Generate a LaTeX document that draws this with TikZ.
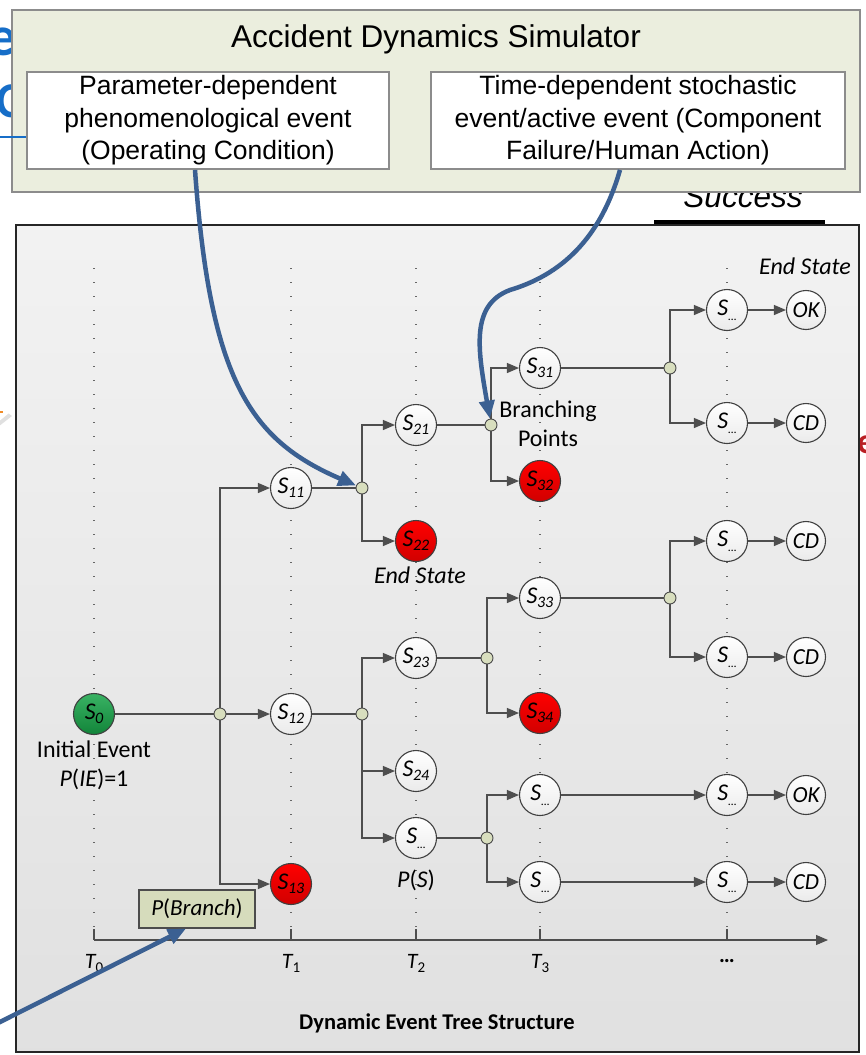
\documentclass[tikz,border=0pt]{standalone}
\usepackage{fontspec}
\setmainfont{Carlito}
\newfontfamily\arialfont{Liberation Sans}
\usetikzlibrary{arrows.meta}

\definecolor{linkgray}{RGB}{78,78,78}
\definecolor{bpfill}{RGB}{216,222,190}
\definecolor{simfill}{RGB}{235,238,222}
\definecolor{simdraw}{RGB}{140,140,140}
\definecolor{arrowblue}{RGB}{59,96,146}
\definecolor{titleblue}{RGB}{22,110,200}
\definecolor{probfill}{RGB}{214,220,188}
\definecolor{okgreen}{RGB}{22,165,72}
\definecolor{fragred}{RGB}{185,30,35}
\definecolor{fragorange}{RGB}{240,140,40}

% state labels: italic S with a lowered index
\newcommand\sname[1]{{\fontsize{24}{24}\selectfont\itshape S\kern-0.5pt\raisebox{-0.35ex}{\fontsize{16}{16}\selectfont #1}}}
\newcommand\sopen{{\fontsize{24}{24}\selectfont\itshape S\raisebox{-0.45ex}{\fontsize{12}{12}\selectfont\ldots}}}
\newcommand\tname[1]{{\fontsize{22}{22}\selectfont\itshape T\raisebox{-0.4ex}{\upshape\fontsize{15}{15}\selectfont #1}}}

\tikzset{
  state/.style={circle, draw=black!75, line width=1.1pt, minimum size=41pt,
    inner sep=0pt, top color=white, bottom color=black!8},
  hot/.style={state, top color=red, bottom color=red!82!black},
  start/.style={state, top color=okgreen!85!white, bottom color=okgreen!80!black},
  outcome/.style={state, minimum size=39pt},
  bpoint/.style={circle, draw=black!70, line width=0.9pt, fill=bpfill,
    minimum size=12pt, inner sep=0pt},
  link/.style={draw=linkgray, line width=1.2pt},
  go/.style={link, -{Triangle[length=12pt,width=10pt]}},
  guide/.style={draw=black!60, line width=1.1pt, dash pattern=on 1pt off 13pt},
  bluearrow/.style={draw=arrowblue, line width=4.5pt,
    -{Triangle[length=18pt,width=15pt]}},
  lbl/.style={font=\fontsize{24}{29}\selectfont, inner sep=0pt},
  inbox/.style={draw=simdraw, fill=white, line width=1.8pt, minimum height=97pt,
    align=center, inner sep=0pt, font=\arialfont\fontsize{26.5}{32.5}\selectfont},
}

\begin{document}
\begin{tikzpicture}[x=1pt,y=-1pt]
\useasboundingbox (0,0) rectangle (866,1055);

% pieces of neighbouring slide content at the edges
\node[anchor=base east, inner sep=0pt, text=titleblue,
  font=\bfseries\fontsize{56}{56}\selectfont] (fragE) at (17,55) {e};
\node[anchor=base west, inner sep=0pt, text=titleblue,
  font=\bfseries\fontsize{50}{50}\selectfont] (fragC) at (-4,117) {C};
\node[anchor=base west, inner sep=0pt, text=fragred,
  font=\bfseries\fontsize{36}{36}\selectfont] (fragR) at (857,453) {e};
\fill[black!12] (-20,393) -- (12,416) -- (-20,441) -- cycle;
\fill[white] (-20,389) -- (9,413) -- (-20,437) -- cycle;
\draw[fragorange, line width=1.6pt] (0,412) -- (3,412);

% tree panel
\draw[black!85, line width=1.5pt, top color=black!5, bottom color=black!12]
  (16,225) rectangle (859,1052);

% heading fragment above the panel
\node[anchor=base, inner sep=0pt, font=\arialfont\itshape\fontsize{31.5}{31.5}\selectfont]
  (success) at (743,207) {Success};
\fill (654,220) rectangle (825,224);

% time guides
\foreach \gx in {94,291,416,540,727}
  \draw[guide] (\gx,268) -- (\gx,930);

% time axis
\coordinate (ax0) at (94,940);
\coordinate (axend) at (828,940);
\draw[link, -{Triangle[length=12pt,width=10pt]}] (ax0) -- (axend);
\foreach \gx in {94,291,416,540,727}
  \draw[link] (\gx,929) -- (\gx,940);
\node[lbl, anchor=base] (t0) at (94,968) {\tname{0}};
\node[lbl, anchor=base] (t1) at (291,968) {\tname{1}};
\node[lbl, anchor=base] (t2) at (416,968) {\tname{2}};
\node[lbl, anchor=base] (t3) at (540,968) {\tname{3}};
\node[lbl, anchor=base, font=\bfseries\fontsize{22}{22}\selectfont] (tn) at (727,962) {\ldots};

% states
\node[start] (s0) at (94,714) {\sname{0}};
\node[bpoint] (b0) at (220,714) {};
\node[state] (s11) at (291,488) {\sname{11}};
\node[state] (s12) at (291,714) {\sname{12}};
\node[hot]   (s13) at (291,884) {\sname{13}};
\node[bpoint] (b1) at (362,488) {};
\node[state] (s21) at (416,425) {\sname{21}};
\node[hot]   (s22) at (416,541) {\sname{22}};
\node[bpoint] (b2) at (362,714) {};
\node[state] (s23) at (416,658) {\sname{23}};
\node[state] (s24) at (416,771) {\sname{24}};
\node[state] (s2x) at (416,838) {\sopen};
\node[bpoint] (b3) at (491,425) {};
\node[state] (s31) at (540,368) {\sname{31}};
\node[hot]   (s32) at (540,481) {\sname{32}};
\node[bpoint] (b4) at (487,658) {};
\node[state] (s33) at (540,598) {\sname{33}};
\node[hot]   (s34) at (540,713) {\sname{34}};
\node[bpoint] (b5) at (487,838) {};
\node[state] (s3a) at (540,795) {\sopen};
\node[state] (s3b) at (540,882) {\sopen};
\node[bpoint] (b6) at (670,368) {};
\node[state] (sa) at (727,310) {\sopen};
\node[state] (sb) at (727,423) {\sopen};
\node[bpoint] (b7) at (670,598) {};
\node[state] (sc) at (727,541) {\sopen};
\node[state] (sd) at (727,657) {\sopen};
\node[state] (se) at (727,795) {\sopen};
\node[state] (sf) at (727,882) {\sopen};

% end states
\tikzset{endtxt/.style={font=\fontsize{23}{23}\selectfont\itshape}}
\node[outcome, endtxt] (ok1) at (806,310) {OK};
\node[outcome, endtxt] (cd1) at (806,423) {CD};
\node[outcome, endtxt] (cd2) at (806,541) {CD};
\node[outcome, endtxt] (cd3) at (806,657) {CD};
\node[outcome, endtxt] (ok2) at (806,795) {OK};
\node[outcome, endtxt] (cd4) at (806,882) {CD};

% branches
\draw[link] (s0) -- (b0);
\draw[go] (b0) |- (s11);
\draw[go] (b0) -- (s12);
\draw[go] (b0) |- (s13);
\draw[link] (s11) -- (b1);
\draw[go] (b1) |- (s21);
\draw[go] (b1) |- (s22);
\draw[link] (s12) -- (b2);
\draw[go] (b2) |- (s23);
\draw[go] (b2) |- (s24);
\draw[go] (b2) |- (s2x);
\draw[link] (s21) -- (b3);
\draw[go] (b3) |- (s31);
\draw[go] (b3) |- (s32);
\draw[link] (s23) -- (b4);
\draw[go] (b4) |- (s33);
\draw[go] (b4) |- (s34);
\draw[link] (s2x) -- (b5);
\draw[go] (b5) |- (s3a);
\draw[go] (b5) |- (s3b);
\draw[link] (s31) -- (b6);
\draw[go] (b6) |- (sa);
\draw[go] (b6) |- (sb);
\draw[link] (s33) -- (b7);
\draw[go] (b7) |- (sc);
\draw[go] (b7) |- (sd);
\draw[go] (s3a) -- (se);
\draw[go] (s3b) -- (sf);
\draw[go] (sa) -- (ok1);
\draw[go] (sb) -- (cd1);
\draw[go] (sc) -- (cd2);
\draw[go] (sd) -- (cd3);
\draw[go] (se) -- (ok2);
\draw[go] (sf) -- (cd4);

% annotations
\node[lbl, font=\fontsize{24}{24}\selectfont\itshape] (endtop) at (805,266) {End State};
\node[lbl, font=\fontsize{24}{24}\selectfont\itshape] (endmid) at (420,575) {End State};
\node[lbl, align=center] (bplabel) at (548,424) {Branching\\Points};
\node[lbl, align=center] (ielabel) at (94,765) {Initial Event\\{\itshape P}({\itshape IE})=1};
\node[lbl] (pslabel) at (416,880) {{\itshape P}({\itshape S})};
\node[draw=black!70, line width=1.1pt, fill=probfill, minimum width=116pt,
  minimum height=38pt, inner sep=0pt, font=\fontsize{23}{23}\selectfont]
  (pb) at (197,909) {{\itshape P}({\itshape Branch})};
\node[lbl, font=\bfseries\fontsize{22.5}{22.5}\selectfont] (dettitle) at (437,1023)
  {Dynamic Event Tree Structure};

% simulator box
\draw[simdraw, fill=simfill, line width=2pt] (12,10) rectangle (860,192);
\draw[titleblue, line width=2pt] (0,137) -- (27,137);
\node[anchor=base, inner sep=0pt, font=\arialfont\fontsize{31.5}{31.5}\selectfont]
  (simtitle) at (436,47) {Accident Dynamics Simulator};
\node[inbox, minimum width=362pt] (pdep) at (208,120.5)
  {Parameter-dependent\\phenomenological event\\(Operating Condition)};
\node[inbox, minimum width=414pt] (tdep) at (638,120.5)
  {Time-dependent stochastic\\event/active event (Component\\Failure/Human Action)};

% links from the simulator into the tree
\draw[bluearrow] ([xshift=-13pt]pdep.south) .. controls (210,380) and (250,440) .. (b1);
\draw[bluearrow] ([xshift=-18pt]tdep.south) .. controls (600,240) and (560,275) .. (510,290)
  .. controls (470,305) and (478,350) .. (b3);
\coordinate (fromleft) at (-2,1023);
\draw[bluearrow] (fromleft) -- ([xshift=-11pt]pb.south);
\end{tikzpicture}
\end{document}
